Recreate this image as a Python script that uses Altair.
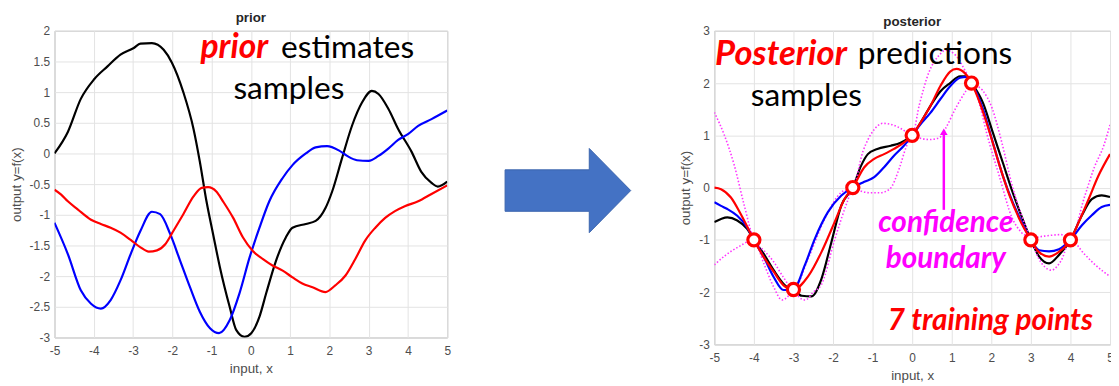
import altair as alt
import pandas as pd

# ---------------- data: prior panel ----------------
prior_black_x = [-5, -4.66, -4.33, -3.99, -3.65, -3.32, -2.98, -2.81, -2.52, -2.22, -2.01, -1.72, -1.46, -1.30, -1.13,
                 -0.96, -0.79, -0.54, -0.37, -0.16, 0.01, 0.22, 0.39, 0.64, 0.89, 1.06, 1.40, 1.65, 1.90, 2.07, 2.32,
                 2.58, 2.83, 3.08, 3.25, 3.50, 3.75, 4.09, 4.34, 4.60, 4.76, 5]
prior_black_y = [0, 0.35, 0.89, 1.21, 1.42, 1.61, 1.72, 1.79, 1.80, 1.69, 1.48, 1.0, 0.40, -0.13, -0.78,
                 -1.32, -1.85, -2.5, -2.88, -2.99, -2.93, -2.66, -2.28, -1.75, -1.37, -1.21, -1.15, -1.10, -0.89, -0.62, -0.08,
                 0.46, 0.83, 1.02, 0.97, 0.73, 0.40, 0.03, -0.30, -0.48, -0.54, -0.46]

prior_blue_x = [-5, -4.66, -4.33, -4.07, -3.82, -3.57, -3.32, -3.06, -2.81, -2.52, -2.31, -2.05, -1.80, -1.55, -1.30,
                -1.04, -0.81, -0.54, -0.29, -0.03, 0.22, 0.47, 0.81, 1.06, 1.40, 1.65, 1.94, 2.24, 2.45, 2.70, 3.0,
                3.25, 3.50, 3.75, 4.01, 4.26, 4.60, 5]
prior_blue_y = [-1.13, -1.64, -2.23, -2.45, -2.53, -2.39, -2.07, -1.64, -1.26, -0.95, -0.99, -1.32, -1.75, -2.18, -2.58,
                -2.85, -2.93, -2.72, -2.28, -1.69, -1.21, -0.78, -0.40, -0.19, 0.0, 0.10, 0.12, 0.05, -0.04, -0.11, -0.12,
                -0.04, 0.08, 0.22, 0.32, 0.45, 0.56, 0.70]

prior_red_x = [-5, -4.83, -4.66, -4.41, -4.07, -3.82, -3.57, -3.32, -3.06, -2.81, -2.60, -2.39, -2.18, -1.97, -1.72,
               -1.46, -1.25, -1.09, -0.88, -0.71, -0.45, -0.20, 0.05, 0.30, 0.56, 0.81, 1.06, 1.31, 1.57, 1.90, 2.15,
               2.41, 2.66, 2.91, 3.17, 3.42, 3.67, 3.92, 4.26, 4.60, 5]
prior_red_y = [-0.59, -0.67, -0.78, -0.91, -1.08, -1.15, -1.21, -1.29, -1.41, -1.53, -1.60, -1.58, -1.48, -1.26, -0.99,
               -0.70, -0.56, -0.55, -0.62, -0.78, -1.05, -1.37, -1.59, -1.72, -1.83, -1.91, -2.02, -2.12, -2.18, -2.26, -2.15,
               -1.99, -1.72, -1.42, -1.21, -1.05, -0.94, -0.86, -0.78, -0.66, -0.52]

# ---------------- data: posterior panel ----------------
post_red_x = [-5, -4.83, -4.58, -4.33, -4.0, -3.75, -3.5, -3.25, -3.0, -2.63, -2.29, -1.96, -1.71, -1.5, -1.21, -0.96,
              -0.71, -0.46, -0.21, 0, 0.21, 0.46, 0.71, 0.96, 1.12, 1.33, 1.5, 1.71, 1.96, 2.21, 2.46, 2.71, 3.0, 3.2,
              3.46, 3.71, 4.0, 4.21, 4.46, 4.71, 5]
post_red_y = [0, -0.03, -0.19, -0.51, -1.0, -1.33, -1.61, -1.87, -1.95, -1.7, -1.23, -0.66, -0.22, 0.0, 0.39, 0.55,
              0.64, 0.74, 0.86, 1.0, 1.24, 1.56, 1.94, 2.22, 2.27, 2.19, 2.0, 1.62, 1.05, 0.42, -0.15, -0.6, -1.0, -1.23,
              -1.32, -1.23, -1.0, -0.66, -0.22, 0.23, 0.64]

post_blue_x = [-5, -4.83, -4.67, -4.42, -4.17, -4.0, -3.75, -3.5, -3.25, -3.0, -2.71, -2.46, -2.13, -1.79, -1.5, -1.21,
               -0.96, -0.71, -0.46, -0.21, 0, 0.21, 0.46, 0.71, 0.96, 1.21, 1.38, 1.5, 1.79, 2.04, 2.29, 2.54, 2.79, 3.0,
               3.21, 3.46, 3.71, 4.0, 4.29, 4.54, 4.79, 5]
post_blue_y = [-0.28, -0.35, -0.41, -0.54, -0.76, -1.0, -1.33, -1.71, -1.96, -1.95, -1.48, -0.98, -0.47, -0.15, 0.0, 0.11,
               0.2, 0.39, 0.61, 0.8, 1.0, 1.21, 1.43, 1.69, 1.94, 2.1, 2.12, 2.0, 1.5, 0.86, 0.23, -0.28, -0.69, -1.0,
               -1.2, -1.22, -1.18, -1.0, -0.72, -0.53, -0.37, -0.33]

post_black_x = [-5, -4.83, -4.67, -4.42, -4.17, -4.0, -3.75, -3.5, -3.17, -3.0, -2.79, -2.54, -2.29, -2.04, -1.79, -1.5,
                -1.29, -1.12, -0.88, -0.54, -0.29, 0, 0.21, 0.46, 0.71, 0.96, 1.21, 1.38, 1.5, 1.79, 2.04, 2.29, 2.54,
                2.79, 3.0, 3.21, 3.46, 3.71, 4.0, 4.29, 4.54, 4.79, 5]
post_black_y = [-0.66, -0.60, -0.57, -0.63, -0.79, -1.0, -1.27, -1.58, -1.90, -1.95, -2.07, -2.08, -1.74, -1.04, -0.34, 0.0,
                0.42, 0.64, 0.74, 0.8, 0.86, 1.0, 1.24, 1.56, 1.84, 2.0, 2.13, 2.13, 2.0, 1.62, 1.05, 0.48, -0.09,
                -0.6, -1.0, -1.32, -1.45, -1.29, -1.0, -0.53, -0.22, -0.15, -0.18]

conf_upper_x = [-5, -4.75, -4.5, -4.25, -4.0, -3.75, -3.5, -3.25, -3.0, -2.63, -2.21, -1.79, -1.5, -1.24, -0.99, -0.74,
                -0.49, -0.24, 0, 0.18, 0.43, 0.68, 0.85, 1.1, 1.35, 1.5, 1.77, 2.02, 2.27, 2.52, 2.75, 2.9, 3.0, 3.18,
                3.43, 3.77, 4.0, 4.35, 4.6, 4.85, 5]
conf_upper_y = [1.44, 1.01, 0.44, -0.32, -1.0, -1.2, -1.42, -1.72, -1.95, -1.36, -0.6, -0.09, 0.0, 0.70, 1.08, 1.23,
                1.20, 1.11, 1.0, 1.58, 2.22, 2.53, 2.63, 2.53, 2.22, 2.0, 1.87, 1.52, 0.85, 0.06, -0.5, -0.8, -1.0, -0.95,
                -0.92, -0.9, -1.0, -0.19, 0.38, 0.82, 1.2]

conf_lower_x = [-5, -4.71, -4.38, -4.0, -3.75, -3.5, -3.29, -3.1, -3.0, -2.85, -2.7, -2.5, -2.29, -1.96, -1.63, -1.5,
                -1.32, -1.07, -0.82, -0.57, -0.32, -0.16, 0, 0.18, 0.43, 0.68, 0.85, 1.1, 1.35, 1.5, 1.7, 1.88, 2.21,
                2.52, 2.75, 3.0, 3.18, 3.52, 3.77, 4.0, 4.35, 4.6, 5]
conf_lower_y = [-1.48, -1.29, -1.13, -1.0, -1.45, -1.9, -2.15, -2.05, -1.95, -2.1, -2.15, -2.0, -1.85, -1.0, -0.25, 0.0,
                -0.06, -0.1, -0.1, -0.03, 0.38, 0.76, 1.0, 0.95, 0.92, 0.95, 1.14, 1.52, 1.84, 2.0, 1.6, 1.05, 0.2,
                -0.57, -0.85, -1.0, -1.33, -1.58, -1.39, -1.0, -1.27, -1.46, -1.70]

train_x = [-4, -3, -1.5, 0, 1.5, 3, 4]
train_y = [-1, -1.95, 0, 1, 2, -1, -1]

x_ticks = [-5, -4, -3, -2, -1, 0, 1, 2, 3, 4, 5]
prior_y_ticks = [-3, -2.5, -2, -1.5, -1, -0.5, 0, 0.5, 1, 1.5, 2]
post_y_ticks = [-3, -2, -1, 0, 1, 2, 3]


def series(xs, ys, name):
    return pd.DataFrame({"x": xs, "y": ys, "s": name})


AXIS_STYLE = dict(labelFont="Liberation Sans", labelFontSize=12, labelColor="#4d4d4d",
                  titleFont="Liberation Sans", titleFontSize=13.5, titleColor="#4d4d4d",
                  titleFontWeight="normal", grid=True, gridColor="#e3e3e3", domain=False,
                  ticks=False, labelOverlap=False, labelExpr="datum.value + ''")


def make_encodings(y_domain, y_ticks):
    xe = alt.X("x:Q", scale=alt.Scale(domain=[-5, 5], nice=False, zero=False), title="input, x",
               axis=alt.Axis(values=x_ticks, tickCount=11, labelPadding=8, titlePadding=5,
                             labelFlush=False, **AXIS_STYLE))
    ye = alt.Y("y:Q", scale=alt.Scale(domain=y_domain, nice=False, zero=False), title="output y=f(x)",
               axis=alt.Axis(values=y_ticks, tickCount=len(y_ticks), labelPadding=5, titlePadding=6,
                             **AXIS_STYLE))
    return xe, ye


def line_layer(df, color, xe, ye, dash=None, width=2.2):
    kw = dict(color=color, strokeWidth=width, interpolate="monotone", clip=True)
    if dash:
        kw["strokeDash"] = dash
    return alt.Chart(df).mark_line(**kw).encode(x=xe, y=ye, order="x:Q")


ann = pd.DataFrame({"a": [0]})


def label(text, x, y, size, color="black", bold=False, align="center", font="Lato", italic=True):
    kw = dict(text=text, font=font, fontSize=size, color=color, align=align, baseline="middle")
    if bold:
        kw["fontWeight"] = "bold"
        if italic:
            kw["fontStyle"] = "italic"
    return alt.Chart(ann).mark_text(**kw).encode(x=alt.value(x), y=alt.value(y))


# ---------------- prior panel ----------------
pxe, pye = make_encodings([-3, 2], prior_y_ticks)
prior_black = line_layer(series(prior_black_x, prior_black_y, "k"), "#000000", pxe, pye)
prior_blue = line_layer(series(prior_blue_x, prior_blue_y, "b"), "#0000ff", pxe, pye)
prior_red = line_layer(series(prior_red_x, prior_red_y, "r"), "#ff0000", pxe, pye)

prior_chart = alt.layer(
    prior_black, prior_blue, prior_red,
    label("prior", 198.5, -13, 13.5, "#262626", True, font="Liberation Sans", italic=False),
    label("prior", 216, 18, 34, "#ff0000", True, "right"),
    label("estimates", 229, 18, 32, align="left"),
    label("samples", 237, 59, 32),
).properties(width=397, height=310)

# ---------------- arrow panel ----------------
arrow_path = "M-1,-0.33L0.34,-0.33L0.34,-0.67L1,0L0.34,0.67L0.34,0.33L-1,0.33Z"
arrow_chart = alt.Chart(ann).mark_point(shape=arrow_path, size=16129, filled=True, opacity=1,
                                        color="#4472c4", stroke="#3b64ad", strokeWidth=1).encode(
    x=alt.value(108), y=alt.value(161.5)
).properties(width=209, height=310, view=alt.ViewConfig(strokeOpacity=0))

# ---------------- posterior panel ----------------
qxe, qye = make_encodings([-3, 3], post_y_ticks)
post_black = line_layer(series(post_black_x, post_black_y, "k"), "#000000", qxe, qye)
post_blue = line_layer(series(post_blue_x, post_blue_y, "b"), "#0000ff", qxe, qye)
post_red = line_layer(series(post_red_x, post_red_y, "r"), "#ff0000", qxe, qye)
conf_up = line_layer(series(conf_upper_x, conf_upper_y, "u"), "#ff33ff", qxe, qye, dash=[1.5, 2], width=1.6)
conf_lo = line_layer(series(conf_lower_x, conf_lower_y, "l"), "#ff33ff", qxe, qye, dash=[1.5, 2], width=1.6)

train = alt.Chart(pd.DataFrame({"x": train_x, "y": train_y})).mark_point(
    filled=False, fill="white", fillOpacity=1, color="#ff0000", strokeWidth=3.2, size=150, opacity=1).encode(
    x=qxe, y=qye)

pointer_rule = alt.Chart(ann).mark_rule(color="#ff00ff", strokeWidth=2.5).encode(
    x=alt.value(232), y=alt.value(181), y2=alt.value(105))
pointer_head = alt.Chart(ann).mark_point(shape="triangle-up", size=60, filled=True, color="#ff00ff",
                                         opacity=1).encode(x=alt.value(232), y=alt.value(102))

post_chart = alt.layer(
    post_black, conf_up, conf_lo, post_blue, post_red, train, pointer_rule, pointer_head,
    label("posterior", 200, -9, 13.5, "#262626", True, font="Liberation Sans", italic=False),
    label("Posterior", 134, 24, 35, "#ff0000", True, "right"),
    label("predictions", 145, 24, 32, align="left"),
    label("samples", 93, 66, 32),
    label("confidence", 234, 194, 30, "#ff00ff", True),
    label("boundary", 234, 231, 30, "#ff00ff", True),
    label("7 training points", 279, 293, 30, "#ff0000", True),
).properties(width=400, height=317)

chart = alt.hconcat(prior_chart, arrow_chart, post_chart, spacing=10).properties(
    padding={"left": 0, "top": 0, "right": -3, "bottom": 0},
    background="white",
).configure_view(stroke="#a6a6a6", strokeWidth=1)

chart.save("out.html", embed_options={"renderer": "svg", "actions": False})
